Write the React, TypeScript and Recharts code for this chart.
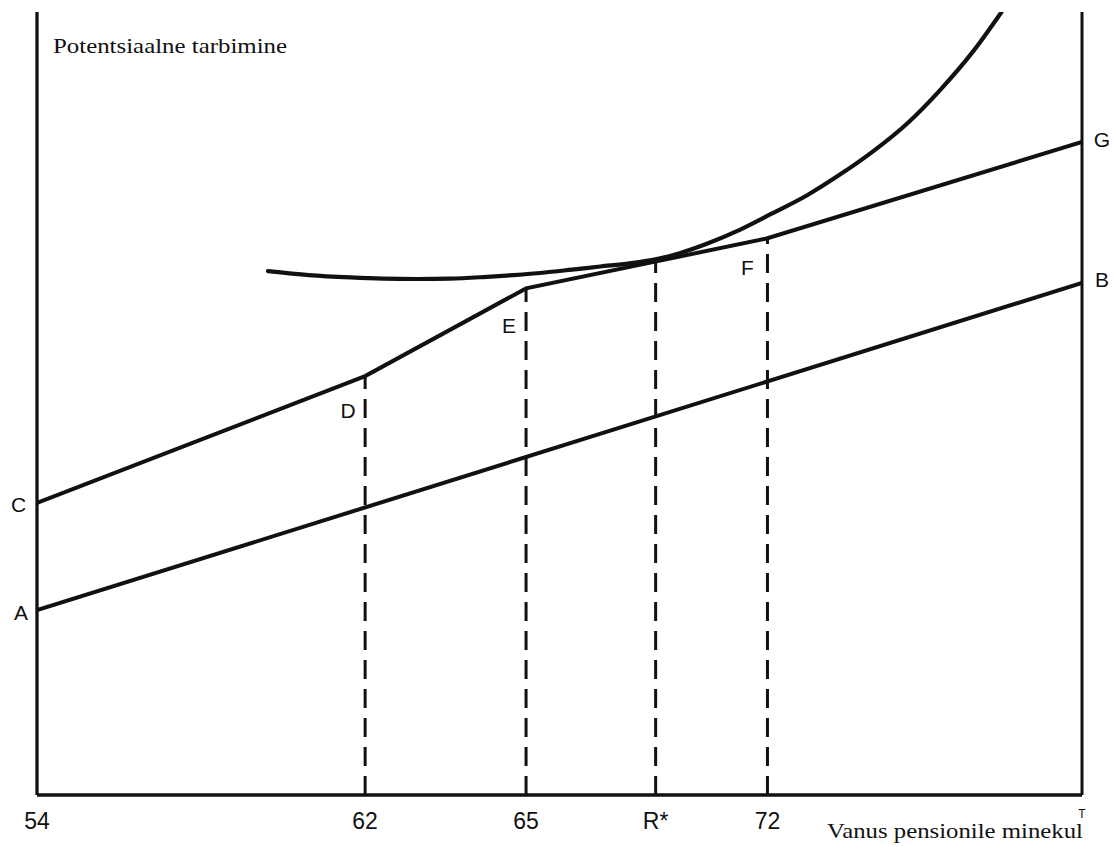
import React from 'react';
import { ComposedChart, Line, XAxis, YAxis, ReferenceLine, ReferenceDot } from 'recharts';

// x positions on the schematic age axis (0 = age 54, 100 = T), y = potential consumption (0..100)
const tickPositions = [0, 31.4, 46.8, 59.2, 69.9, 100];
const tickLabels = ['54', '62', '65', 'R*', '72', 'T'];

// Line A–B
const abX = [0, 100];
const abY = [23.6, 65.4];

// Kinked line C–D–E–F–G
const kinkX = [0, 31.4, 46.8, 69.9, 100];
const kinkY = [37.3, 53.5, 64.7, 71.1, 83.4];

// Indifference curve
const curveX = [22.1, 26.0, 30.0, 33.1, 36.4, 39.5, 42.7, 45.6, 48.4, 51.2, 53.9, 56.7, 59.2, 61.5, 64.1, 67.3, 70.4, 73.7, 76.8, 80.0, 83.3, 86.4, 89.6, 92.3];
const curveY = [66.9, 66.4, 66.1, 65.95, 65.9, 65.95, 66.15, 66.4, 66.7, 67.1, 67.5, 67.9, 68.4, 69.2, 70.4, 72.2, 74.3, 76.6, 79.2, 82.2, 85.8, 90.0, 95.0, 100];

// Dashed verticals (62, 65, R*, 72)
const dashX = [31.4, 46.8, 59.2, 69.9];
const dashTop = [53.5, 64.7, 68.3, 71.1];

// Point labels
const pointNames = ['A', 'B', 'C', 'D', 'E', 'F', 'G'];
const pointX = [0, 100, 0, 31.4, 46.8, 69.9, 100];
const pointY = [23.6, 65.4, 37.3, 53.5, 64.7, 71.1, 83.4];
const labelDx = [-16, 20, -18.5, -17, -17, -20, 20];
const labelDy = [2, -3, 2, 34, 37, 29, -2];

const toRows = (xs: number[], ys: number[]) => xs.map((x, i) => ({ x, y: ys[i] }));

const INK = '#111';
const SANS = '"Liberation Sans", Arial, sans-serif';
const SERIF = '"Liberation Serif", "Times New Roman", serif';

const Tick = (props: any) => {
  const { x, y, payload } = props;
  const idx = tickPositions.indexOf(payload.value);
  const label = tickLabels[idx];
  if (label === 'T') {
    return (
      <text x={x} y={y + 23} textAnchor="middle" fontFamily={SANS} fontSize={12} fill={INK}>
        {label}
      </text>
    );
  }
  return (
    <text x={x} y={y + 34} textAnchor="middle" fontFamily={SANS} fontSize={23} fill={INK}>
      {label}
    </text>
  );
};

const makeLabel = (text: string, dx: number, dy: number) => (p: any) => {
  const vb = p.viewBox || {};
  return (
    <text
      x={vb.x + dx}
      y={vb.y + dy}
      textAnchor="middle"
      dominantBaseline="central"
      fontFamily={SANS}
      fontSize={21}
      fill={INK}
    >
      {text}
    </text>
  );
};

const makeTitle = (text: string, dx: number, dy: number, len: number) => (p: any) => {
  const vb = p.viewBox || {};
  return (
    <text
      x={vb.x + dx}
      y={vb.y + dy}
      textAnchor="start"
      fontFamily={SERIF}
      fontSize={22}
      fill={INK}
      textLength={len}
      lengthAdjust="spacingAndGlyphs"
    >
      {text}
    </text>
  );
};

export default function App() {
  return (
    <div style={{ width: 1114, height: 847 }}>
      <style>{'html,body{margin:0;padding:0;overflow:hidden}'}</style>
      <ComposedChart width={1114} height={847} margin={{ top: 12, right: 32, left: 37, bottom: 22 }}>
        <XAxis
          type="number"
          dataKey="x"
          domain={[0, 100]}
          ticks={tickPositions}
          tick={<Tick />}
          tickLine={false}
          tickSize={0}
          tickMargin={0}
          height={30}
          axisLine={{ stroke: INK, strokeWidth: 3.3 }}
          allowDataOverflow
          interval={0}
        />
        <YAxis type="number" domain={[0, 100]} hide allowDataOverflow />
        <ReferenceLine x={0} stroke={INK} strokeWidth={3.3} />
        <ReferenceLine x={100} stroke={INK} strokeWidth={3} />

        {dashX.map((dx, i) => (
          <Line
            key={'dash' + i}
            data={toRows([dx, dx], [0, dashTop[i]])}
            dataKey="y"
            type="linear"
            stroke={INK}
            strokeWidth={3}
            strokeDasharray="19 10"
            dot={false}
            activeDot={false}
            isAnimationActive={false}
          />
        ))}

        <Line
          data={toRows(abX, abY)}
          dataKey="y"
          type="linear"
          stroke={INK}
          strokeWidth={4}
          dot={false}
          activeDot={false}
          isAnimationActive={false}
        />
        <Line
          data={toRows(kinkX, kinkY)}
          dataKey="y"
          type="linear"
          stroke={INK}
          strokeWidth={4}
          dot={false}
          activeDot={false}
          isAnimationActive={false}
        />
        <Line
          data={toRows(curveX, curveY)}
          dataKey="y"
          type="monotone"
          stroke={INK}
          strokeWidth={4.2}
          strokeLinecap="round"
          dot={false}
          activeDot={false}
          isAnimationActive={false}
        />

        {pointNames.map((n, i) => (
          <ReferenceDot
            key={'pt' + n}
            x={pointX[i]}
            y={pointY[i]}
            r={0}
            fill="none"
            stroke="none"
            label={{ content: makeLabel(n, labelDx[i], labelDy[i]) }}
          />
        ))}

        <ReferenceDot
          x={0}
          y={100}
          r={0}
          fill="none"
          stroke="none"
          label={{ content: makeTitle('Potentsiaalne tarbimine', 16, 41, 234) }}
        />
        <ReferenceDot
          x={100}
          y={0}
          r={0}
          fill="none"
          stroke="none"
          label={{ content: makeTitle('Vanus pensionile minekul', -255, 43, 256) }}
        />
      </ComposedChart>
    </div>
  );
}
